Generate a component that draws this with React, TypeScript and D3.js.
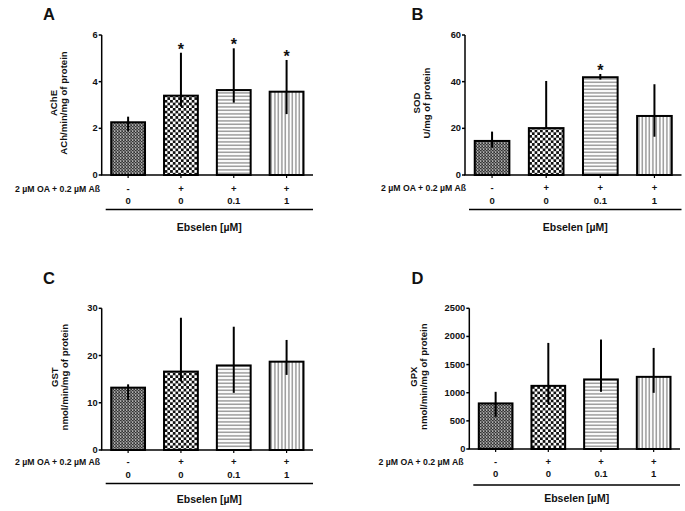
import React from "react";
import * as d3 from "d3";

const groups = ["ctrl", "oa", "eb01", "eb1"];
const oaSigns = ["-", "+", "+", "+"];
const ebselenDoses = ["0", "0", "0.1", "1"];
const rowLabel = "2 µM OA + 0.2 µM Aß";
const xTitle = "Ebselen [µM]";

const acheMean = [2.26, 3.4, 3.64, 3.57];
const acheLow = [1.89, 2.93, 3.1, 2.61];
const acheHigh = [2.5, 5.24, 5.43, 4.93];
const acheSig = [false, true, true, true];
const acheTicks = [0, 2, 4, 6];

const sodMean = [14.6, 20.1, 41.9, 25.3];
const sodLow = [11.7, 20.1, 40.9, 16.4];
const sodHigh = [18.6, 40.3, 43.3, 38.9];
const sodSig = [false, false, true, false];
const sodTicks = [0, 20, 40, 60];

const gstMean = [13.2, 16.6, 17.9, 18.7];
const gstLow = [10.6, 14.5, 12.1, 15.9];
const gstHigh = [13.9, 28.0, 26.1, 23.3];
const gstSig = [false, false, false, false];
const gstTicks = [0, 10, 20, 30];

const gpxMean = [810, 1122, 1236, 1282];
const gpxLow = [573, 798, 1016, 998];
const gpxHigh = [1016, 1885, 1945, 1796];
const gpxSig = [false, false, false, false];
const gpxTicks = [0, 500, 1000, 1500, 2000, 2500];

const patterns = ["pDots", "pChecker", "pHoriz", "pVert"];
const FONT = "'Liberation Sans', Arial, Helvetica, sans-serif";

const panels = [
  {
    letter: "A", lx: 43, ly: 20,
    title1: "AChE", title2: "ACh/min/mg of protein", t1x: 56.8, t2x: 67.3,
    mean: acheMean, low: acheLow, high: acheHigh, sig: acheSig, ticks: acheTicks,
    axisX: 101.7, axisRight: 313, yTop: 35, yBottom: 175,
    signY: 191.5, doseY: 204.3, lineY: 209.5, titleY: 230.5, rowRight: 100,
  },
  {
    letter: "B", lx: 411.5, ly: 20,
    title1: "SOD", title2: "U/mg of protein", t1x: 419.5, t2x: 430,
    mean: sodMean, low: sodLow, high: sodHigh, sig: sodSig, ticks: sodTicks,
    axisX: 465, axisRight: 681.5, yTop: 35, yBottom: 175,
    signY: 190.5, doseY: 203.8, lineY: 209.5, titleY: 230.5, rowRight: 466,
  },
  {
    letter: "C", lx: 43, ly: 283.5,
    title1: "GST", title2: "nmol/min/mg of protein", t1x: 57.8, t2x: 68.3,
    mean: gstMean, low: gstLow, high: gstHigh, sig: gstSig, ticks: gstTicks,
    axisX: 101.7, axisRight: 313, yTop: 308.3, yBottom: 450,
    signY: 464.5, doseY: 477.7, lineY: 483.5, titleY: 503, rowRight: 100,
  },
  {
    letter: "D", lx: 411.5, ly: 283.5,
    title1: "GPX", title2: "nmol/min/mg of protein", t1x: 416.7, t2x: 427.3,
    mean: gpxMean, low: gpxLow, high: gpxHigh, sig: gpxSig, ticks: gpxTicks,
    axisX: 469.3, axisRight: 680, yTop: 308.3, yBottom: 449,
    signY: 464.5, doseY: 476.5, lineY: 485, titleY: 502, rowRight: 463.5,
  },
];

function Panel({ p }: { p: any }) {
  const y = d3.scaleLinear().domain([0, p.ticks[p.ticks.length - 1]]).range([p.yBottom, p.yTop]);
  const x = d3.scaleBand().domain(groups).range([p.axisX, p.axisRight]).paddingInner(0.36).paddingOuter(0.18);
  const bw = x.bandwidth();
  const midY = (p.yTop + p.yBottom) / 2 - 2;
  return (
    <g fontFamily={FONT} fontWeight="bold" fill="#111">
      <text x={p.lx} y={p.ly} fontSize={16.5}>{p.letter}</text>
      {/* y title */}
      <text transform={`translate(${p.t1x},${midY}) rotate(-90)`} textAnchor="middle" fontSize={9.6}>{p.title1}</text>
      <text transform={`translate(${p.t2x},${midY}) rotate(-90)`} textAnchor="middle" fontSize={9.6}>{p.title2}</text>
      {/* bars */}
      {groups.map((g, i) => {
        const x0 = x(g)!;
        return (
          <rect key={g} x={x0} y={y(p.mean[i])} width={bw} height={p.yBottom - y(p.mean[i])}
            fill={`url(#${patterns[i]})`} stroke="#000" strokeWidth={2} />
        );
      })}
      {/* error bars */}
      {groups.map((g, i) => {
        const cx = x(g)! + bw / 2;
        return <line key={g} x1={cx} x2={cx} y1={y(p.high[i])} y2={y(p.low[i])} stroke="#000" strokeWidth={2} />;
      })}
      {/* significance */}
      {groups.map((g, i) => p.sig[i] ? (
        <text key={g} x={x(g)! + bw / 2} y={y(p.high[i]) + 2} textAnchor="middle" fontSize={16}>*</text>
      ) : null)}
      {/* axes */}
      <line x1={p.axisX} x2={p.axisX} y1={p.yTop} y2={p.yBottom} stroke="#000" strokeWidth={1.5} />
      <line x1={p.axisX - 0.75} x2={p.axisRight} y1={p.yBottom} y2={p.yBottom} stroke="#000" strokeWidth={1.5} />
      {p.ticks.map((t: number) => (
        <g key={t}>
          <line x1={p.axisX - 3} x2={p.axisX} y1={y(t)} y2={y(t)} stroke="#000" strokeWidth={1.5} />
          <text x={p.axisX - 4} y={y(t)} textAnchor="end" dominantBaseline="central" fontSize={9.3}>{t}</text>
        </g>
      ))}
      {groups.map((g) => {
        const cx = x(g)! + bw / 2;
        return <line key={g} x1={cx} x2={cx} y1={p.yBottom} y2={p.yBottom + 3} stroke="#000" strokeWidth={1.2} />;
      })}
      {/* rows */}
      <text x={p.rowRight} y={p.signY} textAnchor="end" fontSize={8.7}>{rowLabel}</text>
      {groups.map((g, i) => (
        <text key={g} x={x(g)! + bw / 2} y={p.signY} textAnchor="middle" fontSize={9.5}>{oaSigns[i]}</text>
      ))}
      {groups.map((g, i) => (
        <text key={g} x={x(g)! + bw / 2} y={p.doseY} textAnchor="middle" fontSize={9.5}>{ebselenDoses[i]}</text>
      ))}
      <line x1={p.axisX + 4} x2={p.axisRight} y1={p.lineY} y2={p.lineY} stroke="#000" strokeWidth={1.5} />
      <text x={(p.axisX + 4 + p.axisRight) / 2} y={p.titleY} textAnchor="middle" fontSize={10.5}>{xTitle}</text>
    </g>
  );
}

export default function App() {
  return (
    <svg width={685} height={511} style={{ position: "absolute", left: 0, top: 0, background: "#fff" }}>
      <defs>
        <pattern id="pDots" width={3} height={3} patternUnits="userSpaceOnUse">
          <rect width={3} height={3} fill="#8a8a8a" />
          <rect x={0} y={0} width={1.5} height={1.5} fill="#333" />
          <rect x={1.5} y={1.5} width={1.5} height={1.5} fill="#333" />
          <rect x={0} y={1.5} width={1} height={1} fill="#d8d8d8" />
        </pattern>
        <pattern id="pChecker" width={5.4} height={5.4} patternUnits="userSpaceOnUse">
          <rect width={5.4} height={5.4} fill="#fff" />
          <rect x={0} y={0} width={2.7} height={2.7} fill="#111" />
          <rect x={2.7} y={2.7} width={2.7} height={2.7} fill="#111" />
        </pattern>
        <pattern id="pHoriz" width={4} height={3.5} patternUnits="userSpaceOnUse">
          <rect width={4} height={3.5} fill="#fff" />
          <rect x={0} y={1.2} width={4} height={1.3} fill="#888" />
        </pattern>
        <pattern id="pVert" width={3.5} height={4} patternUnits="userSpaceOnUse">
          <rect width={3.5} height={4} fill="#fff" />
          <rect x={1.2} y={0} width={1.3} height={4} fill="#888" />
        </pattern>
      </defs>
      {panels.map((p) => <Panel key={p.letter} p={p} />)}
    </svg>
  );
}
